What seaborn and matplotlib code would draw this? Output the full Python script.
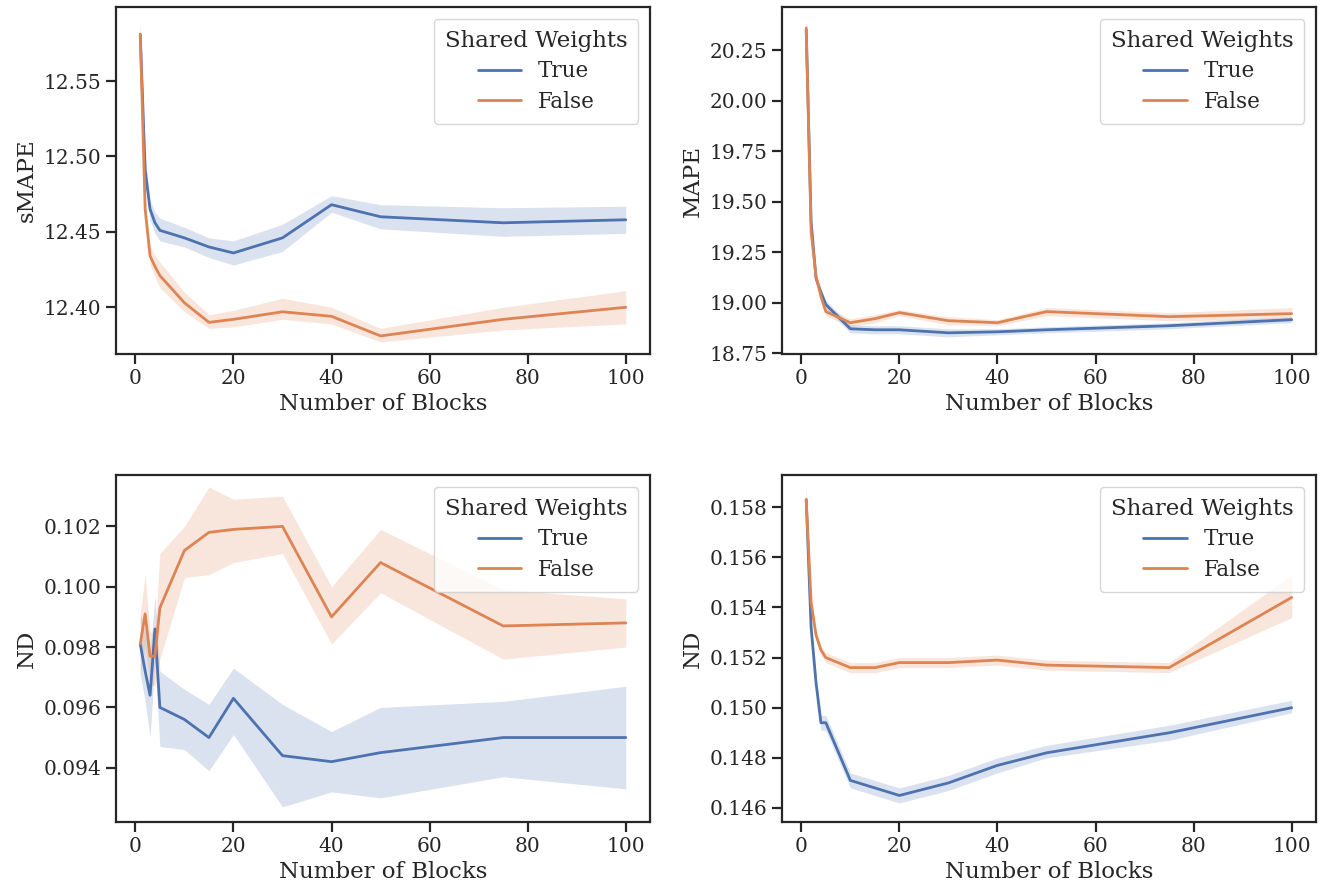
import matplotlib
matplotlib.use("Agg")
import matplotlib.pyplot as plt
import seaborn as sns
import pandas as pd

# --- data ---
blocks = [1, 2, 3, 4, 5, 10, 15, 20, 30, 40, 50, 75, 100]

smape_true = [12.581, 12.491, 12.465, 12.456, 12.451, 12.446, 12.440, 12.436, 12.446, 12.468, 12.460, 12.456, 12.458]
smape_true_lo = [12.574, 12.482, 12.458, 12.449, 12.444, 12.440, 12.433, 12.428, 12.437, 12.463, 12.452, 12.447, 12.449]
smape_true_hi = [12.589, 12.500, 12.471, 12.463, 12.459, 12.453, 12.446, 12.444, 12.455, 12.474, 12.468, 12.466, 12.467]
smape_false = [12.581, 12.465, 12.434, 12.427, 12.421, 12.403, 12.390, 12.392, 12.397, 12.394, 12.381, 12.392, 12.400]
smape_false_lo = [12.574, 12.458, 12.428, 12.420, 12.413, 12.397, 12.386, 12.387, 12.392, 12.389, 12.377, 12.385, 12.389]
smape_false_hi = [12.588, 12.472, 12.440, 12.434, 12.430, 12.410, 12.395, 12.398, 12.406, 12.400, 12.386, 12.400, 12.411]

mape_true = [20.35, 19.40, 19.12, 19.05, 18.99, 18.87, 18.865, 18.865, 18.85, 18.855, 18.865, 18.885, 18.915]
mape_true_lo = [20.31, 19.37, 19.10, 19.03, 18.97, 18.85, 18.845, 18.845, 18.83, 18.840, 18.850, 18.870, 18.900]
mape_true_hi = [20.39, 19.43, 19.14, 19.07, 19.01, 18.89, 18.885, 18.885, 18.87, 18.870, 18.880, 18.900, 18.930]
mape_false = [20.36, 19.35, 19.13, 19.03, 18.955, 18.90, 18.92, 18.95, 18.91, 18.90, 18.955, 18.93, 18.945]
mape_false_lo = [20.32, 19.32, 19.11, 19.01, 18.935, 18.88, 18.90, 18.935, 18.89, 18.885, 18.935, 18.91, 18.915]
mape_false_hi = [20.40, 19.38, 19.15, 19.05, 18.975, 18.92, 18.94, 18.965, 18.93, 18.915, 18.975, 18.95, 18.975]

nd1_true = [0.0981, 0.0972, 0.0964, 0.0986, 0.0960, 0.0956, 0.0950, 0.0963, 0.0944, 0.0942, 0.0945, 0.0950, 0.0950]
nd1_true_lo = [0.0971, 0.0962, 0.0950, 0.0975, 0.0947, 0.0946, 0.0939, 0.0951, 0.0927, 0.0932, 0.0930, 0.0937, 0.0933]
nd1_true_hi = [0.0991, 0.0985, 0.0978, 0.0997, 0.0972, 0.0966, 0.0961, 0.0973, 0.0961, 0.0952, 0.0960, 0.0962, 0.0967]
nd1_false = [0.0981, 0.0991, 0.0977, 0.0977, 0.0993, 0.1012, 0.1018, 0.1019, 0.1020, 0.0990, 0.1008, 0.0987, 0.0988]
nd1_false_lo = [0.0971, 0.0980, 0.0968, 0.0967, 0.0976, 0.1003, 0.1004, 0.1008, 0.1011, 0.0981, 0.0998, 0.0976, 0.0980]
nd1_false_hi = [0.0991, 0.1004, 0.0985, 0.0985, 0.1011, 0.1020, 0.1033, 0.1029, 0.1030, 0.1000, 0.1019, 0.0999, 0.0996]

nd2_true = [0.1583, 0.1532, 0.1510, 0.1494, 0.1494, 0.1471, 0.1468, 0.1465, 0.1470, 0.1477, 0.1482, 0.1490, 0.1500]
nd2_true_lo = [0.1578, 0.1529, 0.1507, 0.1491, 0.1491, 0.1468, 0.1465, 0.1462, 0.1467, 0.1474, 0.1480, 0.1487, 0.1498]
nd2_true_hi = [0.1588, 0.1535, 0.1513, 0.1497, 0.1497, 0.1474, 0.1471, 0.1468, 0.1473, 0.1480, 0.1485, 0.1493, 0.1503]
nd2_false = [0.1583, 0.1542, 0.1529, 0.1523, 0.1520, 0.1516, 0.1516, 0.1518, 0.1518, 0.1519, 0.1517, 0.1516, 0.1544]
nd2_false_lo = [0.1578, 0.1539, 0.1527, 0.1521, 0.1518, 0.1514, 0.1514, 0.1516, 0.1516, 0.1517, 0.1515, 0.1514, 0.1536]
nd2_false_hi = [0.1588, 0.1545, 0.1531, 0.1525, 0.1522, 0.1518, 0.1518, 0.1520, 0.1520, 0.1521, 0.1519, 0.1518, 0.1553]

panels = [
    ("sMAPE", (smape_true, smape_true_lo, smape_true_hi), (smape_false, smape_false_lo, smape_false_hi), (12.369, 12.599)),
    ("MAPE", (mape_true, mape_true_lo, mape_true_hi), (mape_false, mape_false_lo, mape_false_hi), (18.745, 20.463)),
    ("ND", (nd1_true, nd1_true_lo, nd1_true_hi), (nd1_false, nd1_false_lo, nd1_false_hi), (0.0922, 0.1037)),
    ("ND", (nd2_true, nd2_true_lo, nd2_true_hi), (nd2_false, nd2_false_lo, nd2_false_hi), (0.14544, 0.15928)),
]

sns.set_theme(style="ticks", palette="deep")
plt.rcParams.update({
    "font.family": ["DejaVu Serif"],
    "font.size": 16,
    "axes.labelsize": 16.5,
    "xtick.labelsize": 14.5,
    "ytick.labelsize": 14.5,
    "legend.fontsize": 15.5,
    "legend.title_fontsize": 16.5,
    "xtick.major.size": 7,
    "ytick.major.size": 7,
    "xtick.major.width": 1.6,
    "ytick.major.width": 1.6,
    "axes.linewidth": 1.6,
    "axes.labelpad": 4,
})
colors = sns.color_palette("deep")

fig, axes = plt.subplots(2, 2, figsize=(13.27, 8.88), dpi=100)
fig.subplots_adjust(left=0.0874, right=0.9917, top=0.992, bottom=0.0743, wspace=0.247, hspace=0.349)

for ax, (ylabel, tr, fa, ylim) in zip(axes.flat, panels):
    for label, (mean, lo, hi), col in [("True", tr, colors[0]), ("False", fa, colors[1])]:
        df = pd.DataFrame({"blocks": blocks, "val": mean})
        sns.lineplot(data=df, x="blocks", y="val", color=col, label=label, ax=ax, linewidth=2)
        ax.fill_between(blocks, lo, hi, color=col, alpha=0.2, linewidth=0)
    ax.set_ylim(ylim)
    ax.set_xlabel("Number of Blocks")
    ax.set_ylabel(ylabel)
    ax.set_xticks([0, 20, 40, 60, 80, 100])
    ax.legend(title="Shared Weights", loc="upper right", borderaxespad=0.55,
              labelspacing=0.4, borderpad=0.5)

fig.savefig("out.png", dpi=100)
